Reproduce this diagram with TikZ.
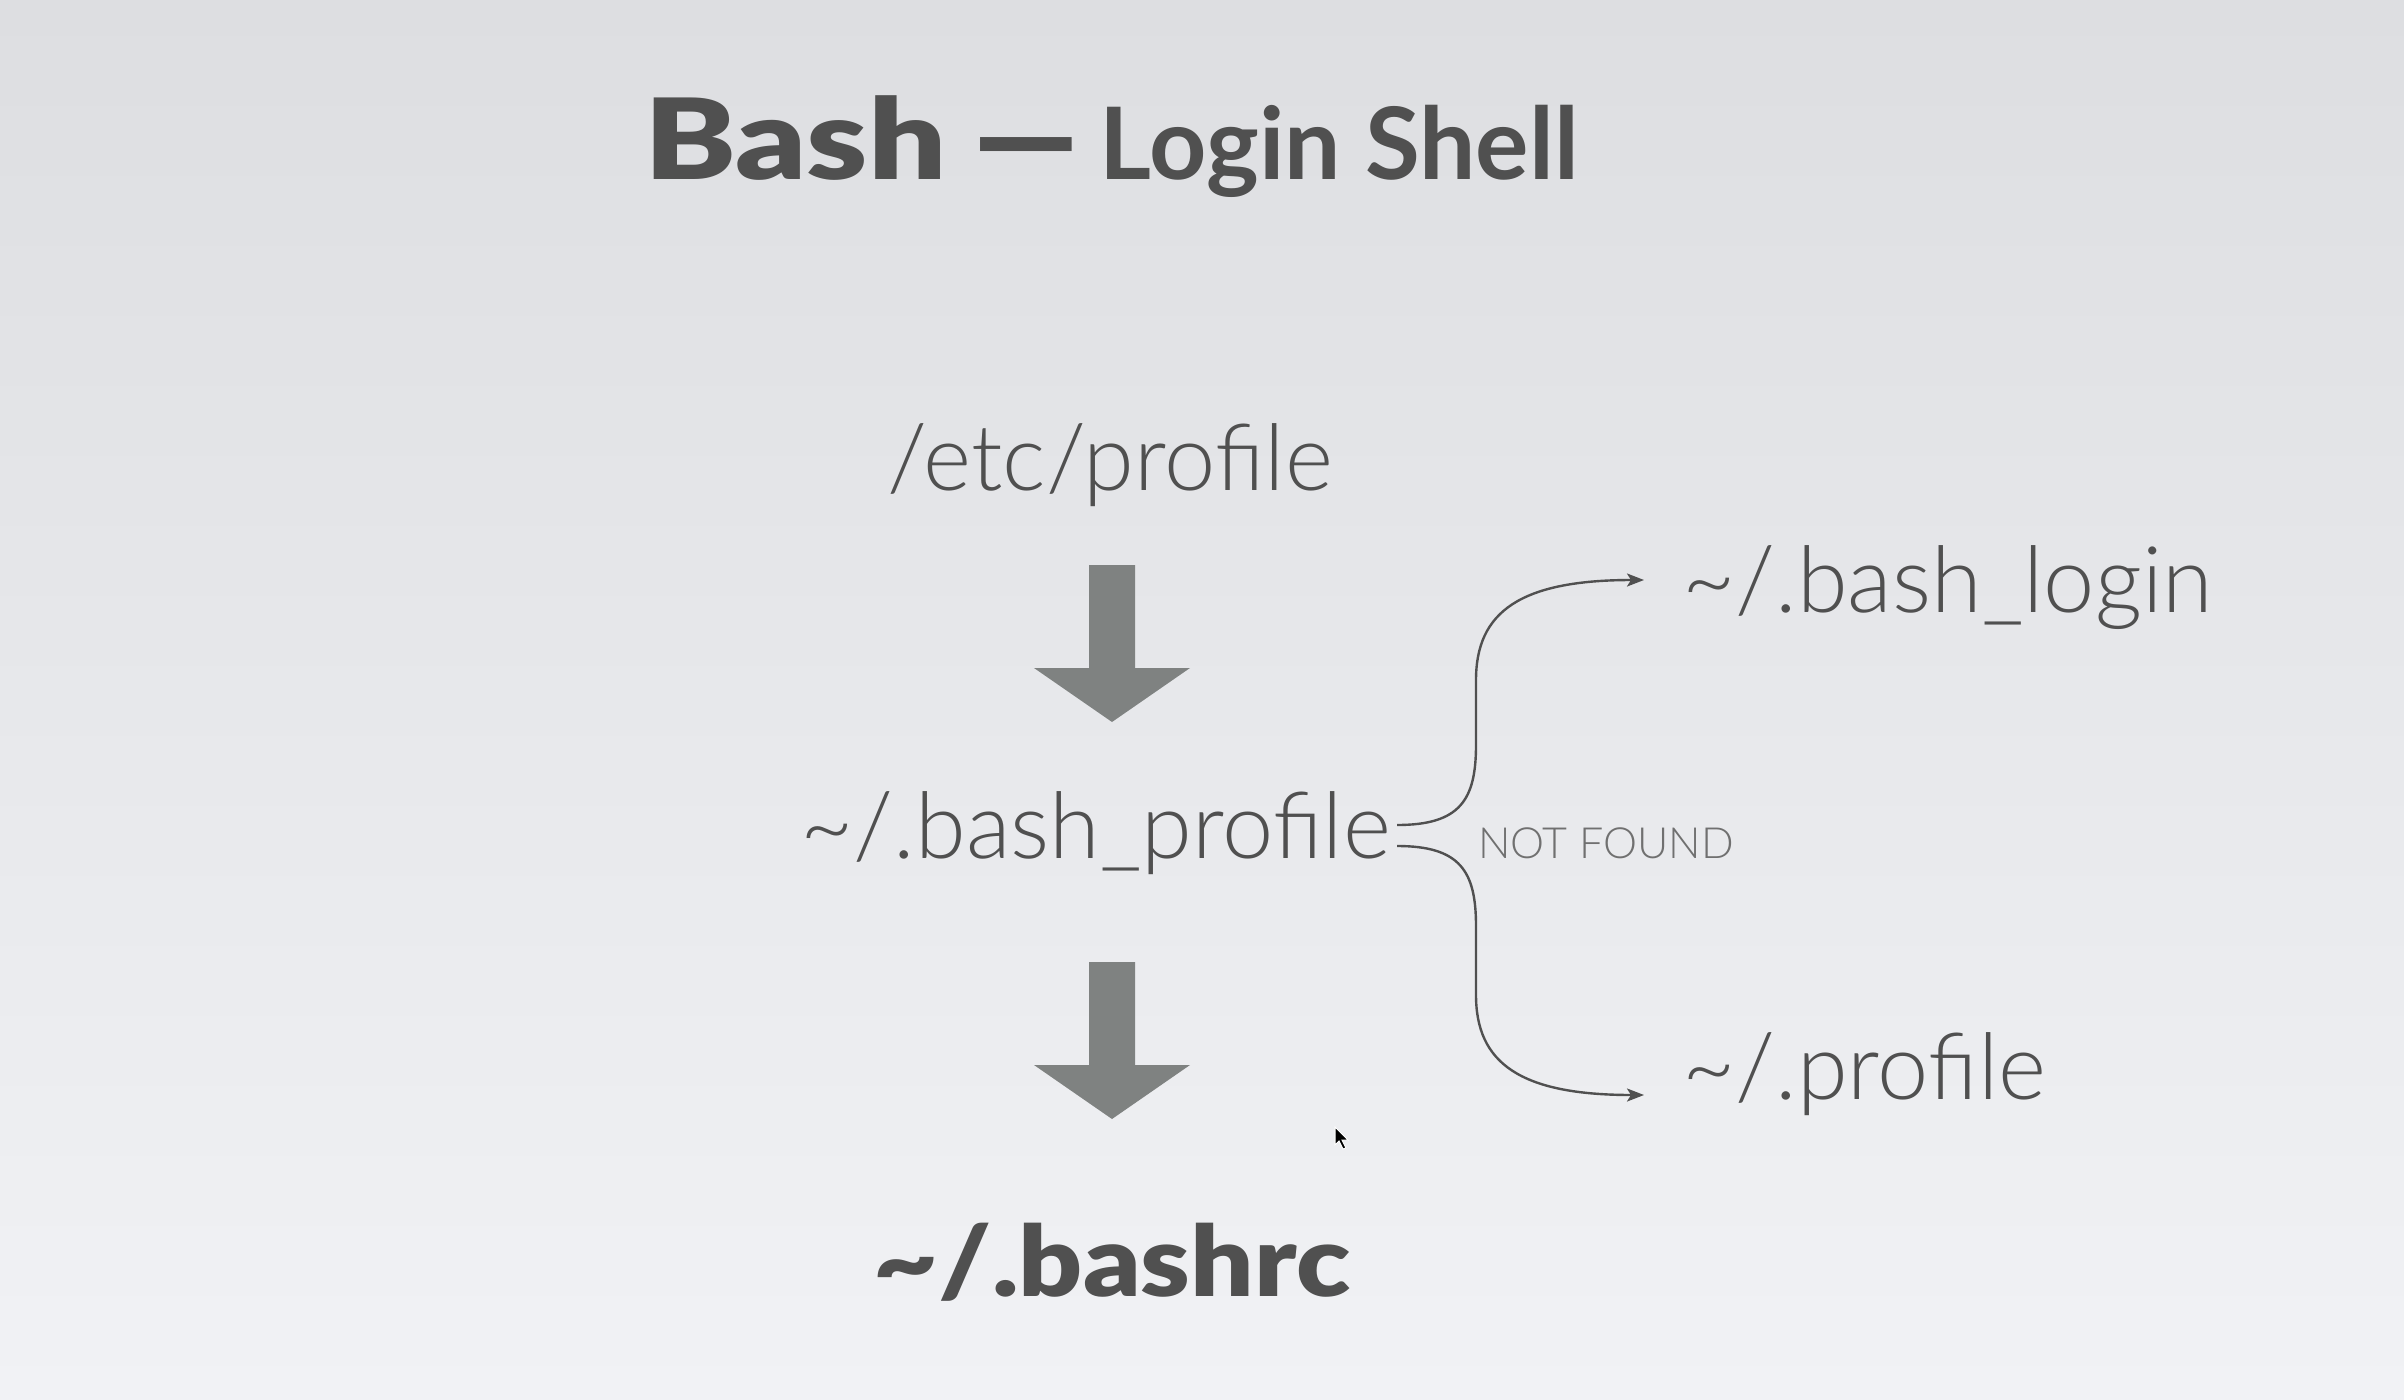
\documentclass[tikz,border=0pt]{standalone}
\usepackage{fontspec}
\setmainfont{Lato}
\newfontfamily\lightfont{Lato Light}
\newfontfamily\heavyfont{Lato Black}
\usetikzlibrary{arrows.meta,calc}
\definecolor{bgtop}{RGB}{221,222,225}
\definecolor{bgbot}{RGB}{241,242,245}
\definecolor{ink}{RGB}{80,80,80}
\definecolor{blockgray}{RGB}{127,130,129}
\definecolor{notegray}{RGB}{112,112,112}
\tikzset{
  label/.style={inner sep=0pt, text=ink, font=\lightfont\fontsize{92}{110}\selectfont},
  blockarrow/.style={fill=blockgray, draw=none},
  branch/.style={draw=ink, line width=2.4pt, -{Stealth[length=17pt,width=13pt,inset=4pt]}},
}
\begin{document}
\begin{tikzpicture}[x=1pt,y=-1pt]
  % background
  \shade[top color=bgtop, bottom color=bgbot] (0,0) rectangle (2404,1400);
  \useasboundingbox (0,0) rectangle (2404,1400);

  % title
  \node[inner sep=0pt, anchor=base west, text=ink, font=\heavyfont\fontsize{112}{130}\selectfont] (bash) at (644,179) {\scalebox{1.23}[1]{Bash}};
  \node[inner sep=0pt, anchor=base west, text=ink, font=\bfseries\fontsize{100}{120}\selectfont] (dash) at (972,192) {\scalebox{1.35}[1.6]{\textemdash}};
  \node[inner sep=0pt, anchor=base east, text=ink, font=\bfseries\fontsize{100}{120}\selectfont] (login) at (1579,179) {Login Shell};

  % files
  \node[label, anchor=base] (etc) at (1110,490) {/etc/profile};
  \node[label, anchor=base east] (bp) at (1391,858) {\textasciitilde/.bash\_profile};
  \node[inner sep=0pt, anchor=base, text=ink, font=\heavyfont\fontsize{98}{110}\selectfont] (rc) at (1112,1296) {\scalebox{1.14}[1]{\textasciitilde/.bashrc}};
  \node[label, anchor=base west] (bl) at (1682,612) {\textasciitilde/.bash\_login};
  \node[label, anchor=base west] (pr) at (1682,1099) {\textasciitilde/.profile};
  \node[inner sep=0pt, anchor=base west, text=notegray, font=\lightfont\fontsize{43}{50}\selectfont] (nf) at (1478,858) {NOT FOUND};

  % block arrows
  \fill[blockarrow] (1089,565) -- (1135,565) -- (1135,668) -- (1190,668) -- (1112,722) -- (1034,668) -- (1089,668) -- cycle;
  \fill[blockarrow] (1089,962) -- (1135,962) -- (1135,1065) -- (1190,1065) -- (1112,1119) -- (1034,1065) -- (1089,1065) -- cycle;

  % branches
  \coordinate (s1) at ($(bp.base east)+(6,-33)$);
  \coordinate (s2) at ($(bp.base east)+(6,-12)$);
  \coordinate (t1) at ($(bl.base west)+(-38,-32)$);
  \coordinate (t2) at ($(pr.base west)+(-38,-4)$);
  \draw[branch] (s1) .. controls (1460,825) and (1476,800) .. (1476,745)
     .. controls (1476,710) and (1476,700) .. (1476,680)
     .. controls (1476,612) and (1520,580) .. (t1);
  \draw[branch] (s2) .. controls (1460,846) and (1476,871) .. (1476,926)
     .. controls (1476,960) and (1476,975) .. (1476,995)
     .. controls (1476,1063) and (1520,1095) .. (t2);

  % pointer
  \fill[black, draw=white, line width=1pt] (1335,1127) -- (1335,1145) -- (1339,1141) -- (1343,1149) -- (1346,1148) -- (1342,1140) -- (1348,1140) -- cycle;
\end{tikzpicture}
\end{document}
